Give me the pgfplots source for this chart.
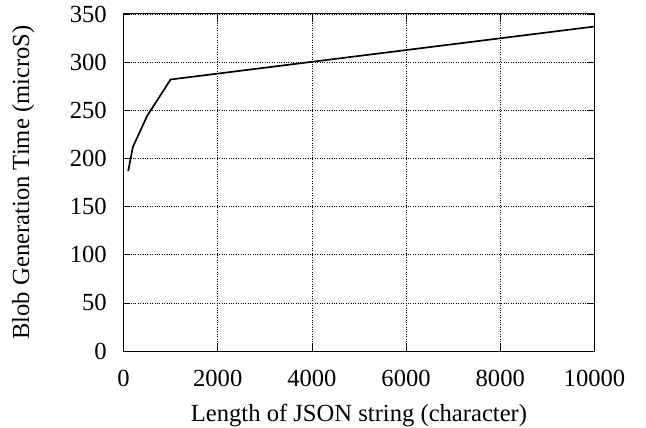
\documentclass[border=0pt]{standalone}
\usepackage{fontspec}
\setmainfont{Liberation Serif}
\usepackage{pgfplots}
\pgfplotsset{compat=1.18}
\newcommand{\bigf}{\fontsize{24.7}{30}\selectfont}
\begin{document}
\begin{tikzpicture}
\begin{axis}[
  scale only axis,
  width=471bp, height=337bp,
  at={(0,0)}, anchor=south west,
  xmin=0, xmax=10000, ymin=0, ymax=350,
  xtick={0,2000,4000,6000,8000,10000},
  ytick={0,50,100,150,200,250,300,350},
  scaled x ticks=false,
  /pgf/number format/assume math mode=true,
  /pgf/number format/set thousands separator={},
  tick align=inside,
  major tick length=7bp,
  tick style={black, line width=0.6bp},
  axis line style={black, line width=1bp},
  grid=major,
  major grid style={black, dotted, line width=0.6bp},
  xticklabel style={font=\bigf, anchor=base, inner sep=0pt, yshift=-35bp},
  yticklabel style={font=\bigf, anchor=east, inner sep=0pt, xshift=-16.5bp},
  xlabel={Length of JSON string (character)},
  ylabel={Blob Generation Time (microS)},
  label style={font=\bigf},
  xlabel style={at={(axis description cs:0.5,0)}, anchor=base, inner sep=0pt, yshift=-70bp},
  ylabel style={at={(axis description cs:-0.2006,0.5)}, anchor=base, inner sep=0pt},
  clip=false,
]
\addplot[black, line width=1.7bp] coordinates {
  (100,187) (200,212) (500,244) (1000,282) (10000,337)
};
\end{axis}
\pgfresetboundingbox
\path[use as bounding box] (-123.5bp,-77bp) rectangle (522.5bp,351bp);
\end{tikzpicture}
\end{document}
